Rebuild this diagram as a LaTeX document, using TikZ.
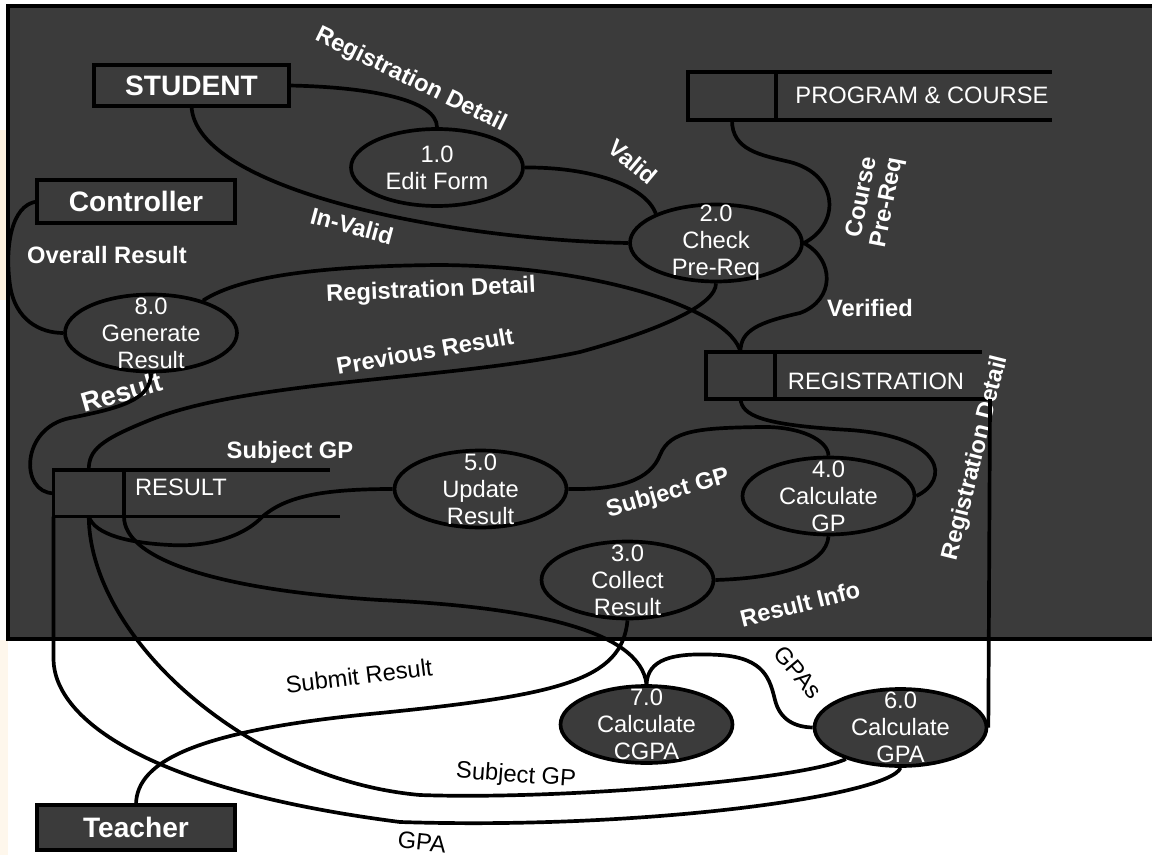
\documentclass[tikz,border=0pt]{standalone}
\usepackage{fontspec}
\setmainfont{Liberation Sans}
\usetikzlibrary{shapes.geometric}

\begin{document}
\begin{tikzpicture}[x=0.02cm, y=-0.02cm]
    % Define colors
    \definecolor{panel}{RGB}{59,59,59}
    \definecolor{slide}{RGB}{252,232,200}

    % Define styles
    \tikzstyle{ent} = [rectangle, draw, fill=panel, line width=2.1pt, outer sep=0pt, inner sep=0pt, text=white, font=\fontsize{16}{19}\selectfont\bfseries]
    \tikzstyle{proc} = [ellipse, draw, fill=panel, line width=2.1pt, text=white, align=center, inner xsep=0pt, inner ysep=-8pt, minimum width=3.44cm, minimum height=1.54cm, font=\fontsize{13.5}{15.3}\selectfont]
    \tikzstyle{store} = [rectangle, draw, line width=2.1pt, outer sep=0pt, inner sep=0pt]
    \tikzstyle{stext} = [text=white, inner sep=0pt, font=\fontsize{13.5}{15}\selectfont]
    \tikzstyle{flow} = [line width=2.1pt]
    \tikzstyle{lbl} = [text=white, inner sep=0pt, font=\fontsize{13.5}{15}\selectfont\bfseries]
    \tikzstyle{wlbl} = [text=black, inner sep=0pt, font=\fontsize{13.5}{15}\selectfont]

    % Page and dark panel
    \useasboundingbox (0,0) rectangle (1152,855);
    \fill[slide!60] (0,130) rectangle (8,300);
    \fill[slide!35] (0,640) rectangle (8,855);
    \draw[fill=panel, line width=2.1pt] (8,6) rectangle (1170,639);

    % External entities
    \node[ent, minimum width=3.9cm, minimum height=0.82cm] (student) at (191.5,85.5) {STUDENT};
    \node[ent, minimum width=3.96cm, minimum height=0.86cm] (controller) at (136,201.5) {Controller};
    \node[ent, minimum width=3.96cm, minimum height=0.9cm] (teacher) at (136,827.5) {Teacher};

    % Data stores
    \node[store, minimum width=1.76cm, minimum height=0.97cm] (progbox) at (732,96) {};
    \draw[flow] (progbox.north west) -- ++(364,0);
    \draw[flow] (progbox.south west) -- ++(364,0);
    \node[stext] (progtxt) at (922,95) {PROGRAM \& COURSE};

    \node[store, minimum width=1.38cm, minimum height=0.94cm] (regbox) at (740.5,375.5) {};
    \draw[flow] (regbox.north west) -- ++(276,0);
    \draw[flow] (regbox.south west) -- ++(284,0) coordinate (regend);
    \node[stext] (regtxt) at (876,381) {REGISTRATION};

    \node[store, minimum width=1.41cm, minimum height=0.93cm] (resbox) at (88.75,493.25) {};
    \draw[flow] (resbox.north west) -- ++(276.5,0);
    \draw[flow] (resbox.south west) -- ++(286.5,0);
    \node[stext] (restxt) at (181,487) {RESULT};

    % Processes
    \node[proc] (p1) at (437,167.5) {1.0\\Edit Form};
    \node[proc] (p2) at (716,243) {2.0\\Check\\Pre-Req};
    \node[proc] (p8) at (151,333) {8.0\\Generate\\Result};
    \node[proc] (p5) at (480.5,489) {5.0\\Update\\Result};
    \node[proc] (p4) at (828.5,496) {4.0\\Calculate\\GP};
    \node[proc] (p3) at (627.5,580) {3.0\\Collect\\Result};
    \node[proc] (p7) at (646.5,724.5) {7.0\\Calculate\\CGPA};
    \node[proc] (p6) at (900.5,727.5) {6.0\\Calculate\\GPA};

    % Flow labels
    \node[lbl, rotate=-26] (lregdet1) at (411,80) {Registration Detail};
    \node[lbl, rotate=-40] (lvalid) at (633,162) {Valid};
    \node[lbl, rotate=-15] (linvalid) at (352,226) {In-Valid};
    \node[lbl] (loverall) at (107,255) {Overall Result};
    \node[lbl, rotate=79, align=center, font=\fontsize{13.5}{14.5}\selectfont\bfseries] (lcourse) at (875,200) {Course\\Pre-Req};
    \node[lbl, rotate=2.5] (lregdet2) at (431,291) {Registration Detail};
    \node[lbl, rotate=10] (lprev) at (425,351) {Previous Result};
    \node[lbl] (lverified) at (870,308) {Verified};
    \node[lbl, rotate=16, font=\fontsize{15.5}{17}\selectfont\bfseries] (lresult) at (122,392) {Result};
    \node[lbl] (lsubgp1) at (290,452) {Subject GP};
    \node[lbl, rotate=16] (lsubgp2) at (668,494) {Subject GP};
    \node[lbl, rotate=76] (lregdet3) at (976,458) {Registration Detail};
    \node[lbl, rotate=14] (lresinfo) at (800,604) {Result Info};
    \node[wlbl, rotate=7] (lsubmit) at (359,676) {Submit Result};
    \node[wlbl, rotate=-4] (lsubgp3) at (516,776) {Subject GP};
    \node[wlbl, rotate=-6] (lgpa) at (422,842) {GPA};
    \node[wlbl, rotate=-50] (lgpas) at (798,672) {GPAs};

    % Data flows
    \draw[flow] (student.east) .. controls (370,87) and (437,100) .. (p1.north);
    \draw[flow] (student.south) .. controls (195,190) and (450,240) .. (p2.west);
    \draw[flow] (p1.east) .. controls (590,167) and (645,185) .. (p2.154);
    \draw[flow] (progbox.south) .. controls (732,150) and (760,155) .. (790,162) .. controls (840,175) and (840,225) .. (p2.east);
    \draw[flow] (p2.east) .. controls (835,260) and (835,300) .. (800,313) .. controls (760,322) and (740,330) .. (regbox.north);
    \draw[flow] (p8.32) .. controls (235,280) and (300,266) .. (440,265) .. controls (600,266) and (730,310) .. (regbox.north);
    \draw[flow] (p2.south) .. controls (716,305) and (660,330) .. (580,352) .. controls (450,380) and (250,380) .. (150,420) .. controls (100,440) and (88.75,450) .. (resbox.north);
    \draw[flow] (p8.south) .. controls (151,400) and (120,408) .. (70,418) .. controls (20,428) and (20,493) .. (resbox.west);
    \draw[flow] (controller.west) .. controls (10,205) and (5,250) .. (10,285) .. controls (15,320) and (40,333) .. (p8.west);
    \draw[flow] (regbox.south) .. controls (742,415) and (760,425) .. (850,430) .. controls (945,437) and (950,480) .. (p4.east);
    \draw[flow] (p5.east) .. controls (620,490) and (650,480) .. (660,455) .. controls (670,430) and (700,428) .. (760,427) .. controls (800,426) and (828,440) .. (p4.north);
    \draw[flow] (p4.south) .. controls (826,565) and (780,578) .. (p3.east);
    \draw[flow] (p5.west) .. controls (320,489) and (285,497) .. (262,517) .. controls (240,540) and (200,547) .. (170,545) .. controls (130,543) and (95,535) .. (resbox.south);
    \draw[flow] (resbox.south east) .. controls (124,560) and (220,590) .. (380,600) .. controls (530,607) and (640,630) .. (p7.north);
    \draw[flow] (resbox.south) .. controls (90,640) and (250,780) .. (420,795) .. controls (560,800) and (800,780) .. (p6.210);
    \draw[flow] (resbox.south west) -- (53.5,660) .. controls (55,720) and (150,790) .. (400,822) .. controls (650,830) and (890,795) .. (p6.south);
    \draw[flow] (p3.south) .. controls (622,680) and (560,695) .. (380,713) .. controls (200,730) and (136,760) .. (teacher.north);
    \draw[flow] (p7.north) .. controls (648,660) and (670,652) .. (720,655) .. controls (765,658) and (770,680) .. (775,700) .. controls (780,720) and (795,727) .. (p6.west);
    \draw[flow] (regend) -- (p6.east);
\end{tikzpicture}
\end{document}
